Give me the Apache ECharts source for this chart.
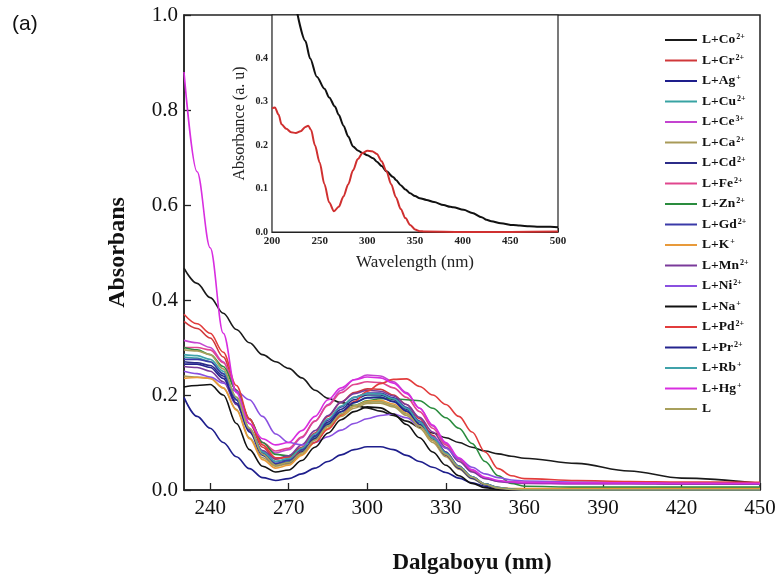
<!DOCTYPE html>
<html>
<head>
<meta charset="utf-8">
<script src="https://cdn.jsdelivr.net/npm/echarts@6/dist/echarts.min.js"></script>
<style>html,body{margin:0;padding:0;background:#fff;}#c{width:782px;height:587px;}</style>
</head>
<body>
<div id="c"></div>
<script>
// ---- main chart data ----
const wavelengths = [230,235,240,245,250,255,260,265,270,275,280,285,290,295,300,305,310,315,320,325,330,335,340,345,350,355,360,380,400,420,450];
const xTickLabels = [240,270,300,330,360,390,420,450];

const ionNames   = ['L+Co','L+Cr','L+Ag','L+Cu','L+Ce','L+Ca','L+Cd','L+Fe','L+Zn','L+Gd','L+K','L+Mn','L+Ni','L+Na','L+Pd','L+Pr','L+Rb','L+Hg','L'];
const ionCharges = ['2+','2+','+','2+','3+','2+','2+','2+','2+','2+','+','2+','2+','+','2+','2+','+','+',''];
const ionColors  = ['#1a1a1a','#d0383a','#1e1e8c','#38a3a3','#c444d0','#a89a58','#2c2c88','#e0468e','#2a8c3e','#3a3aa8','#e89a3a','#7a3a9a','#8a50e0','#111111','#e23c3c','#24248e','#40a2aa','#d82ee0','#a8a05c'];

const coValues = [0.467,0.435,0.405,0.372,0.338,0.31,0.285,0.27,0.256,0.236,0.21,0.193,0.184,0.178,0.173,0.166,0.157,0.145,0.132,0.12,0.11,0.1,0.09,0.082,0.076,0.071,0.067,0.056,0.04,0.025,0.014];
const crValues = [0.355,0.34,0.32,0.28,0.21,0.14,0.09,0.065,0.07,0.09,0.12,0.155,0.185,0.205,0.213,0.212,0.2,0.18,0.15,0.115,0.08,0.05,0.027,0.012,0.005,0.002,0,0,0,0,0];
const agValues = [0.195,0.155,0.13,0.1,0.07,0.045,0.026,0.02,0.024,0.034,0.046,0.06,0.074,0.085,0.091,0.091,0.085,0.073,0.06,0.048,0.037,0.025,0.015,0.008,0.003,0.001,0,0,0,0,0];
const cuValues = [0.28,0.278,0.27,0.245,0.19,0.125,0.075,0.055,0.06,0.082,0.11,0.14,0.165,0.184,0.195,0.196,0.186,0.166,0.138,0.106,0.074,0.046,0.025,0.011,0.004,0.001,0,0,0,0,0];
const ceValues = [0.315,0.31,0.3,0.27,0.21,0.15,0.1,0.078,0.085,0.11,0.145,0.18,0.21,0.232,0.242,0.24,0.228,0.205,0.172,0.135,0.098,0.065,0.04,0.025,0.018,0.015,0.014,0.013,0.013,0.012,0.012];
const caValues = [0.24,0.238,0.235,0.215,0.17,0.11,0.068,0.05,0.055,0.075,0.1,0.13,0.155,0.172,0.182,0.183,0.175,0.157,0.13,0.1,0.07,0.044,0.024,0.011,0.004,0.001,0,0,0,0,0];
const cdValues = [0.27,0.268,0.262,0.24,0.19,0.128,0.08,0.06,0.064,0.085,0.113,0.143,0.17,0.19,0.2,0.2,0.19,0.17,0.142,0.11,0.078,0.05,0.028,0.013,0.005,0.002,0,0,0,0,0];
const feValues = [0.3,0.3,0.295,0.268,0.21,0.148,0.1,0.082,0.088,0.112,0.145,0.178,0.205,0.222,0.228,0.226,0.215,0.195,0.165,0.13,0.095,0.064,0.04,0.025,0.019,0.017,0.016,0.015,0.015,0.014,0.014];
const znValues = [0.3,0.295,0.285,0.26,0.21,0.15,0.1,0.075,0.072,0.085,0.108,0.135,0.16,0.178,0.188,0.192,0.192,0.19,0.188,0.172,0.152,0.13,0.098,0.06,0.03,0.014,0.008,0.006,0.006,0.006,0.006];
const gdValues = [0.275,0.275,0.27,0.245,0.19,0.128,0.078,0.056,0.062,0.085,0.115,0.147,0.175,0.195,0.204,0.204,0.194,0.174,0.145,0.112,0.08,0.05,0.028,0.013,0.005,0.002,0,0,0,0,0];
const kValues  = [0.235,0.237,0.235,0.215,0.168,0.108,0.064,0.046,0.052,0.073,0.1,0.13,0.157,0.176,0.187,0.189,0.181,0.162,0.135,0.104,0.073,0.046,0.026,0.012,0.005,0.003,0.003,0.003,0.003,0.003,0.003];
const mnValues = [0.26,0.258,0.25,0.228,0.18,0.125,0.083,0.066,0.072,0.095,0.125,0.157,0.185,0.203,0.21,0.208,0.198,0.18,0.153,0.122,0.09,0.06,0.038,0.024,0.018,0.016,0.015,0.014,0.014,0.013,0.013];
const niValues = [0.25,0.245,0.238,0.225,0.208,0.19,0.155,0.118,0.1,0.095,0.1,0.112,0.126,0.14,0.15,0.157,0.16,0.152,0.135,0.112,0.088,0.066,0.048,0.034,0.026,0.021,0.019,0.017,0.016,0.015,0.014];
const naValues = [0.217,0.22,0.222,0.2,0.14,0.085,0.05,0.038,0.042,0.062,0.09,0.12,0.148,0.165,0.175,0.173,0.16,0.138,0.11,0.08,0.052,0.03,0.014,0.005,0.001,0,0,0,0,0,0];
const pdValues = [0.37,0.35,0.33,0.29,0.22,0.15,0.095,0.068,0.068,0.08,0.1,0.128,0.158,0.186,0.208,0.224,0.233,0.234,0.218,0.2,0.18,0.155,0.122,0.08,0.045,0.03,0.024,0.02,0.018,0.017,0.016];
const prValues = [0.265,0.265,0.258,0.235,0.183,0.122,0.073,0.053,0.058,0.08,0.108,0.138,0.165,0.184,0.194,0.195,0.186,0.166,0.138,0.106,0.074,0.046,0.025,0.011,0.004,0.001,0,0,0,0,0];
const rbValues = [0.285,0.283,0.275,0.25,0.195,0.13,0.08,0.06,0.066,0.088,0.118,0.15,0.177,0.195,0.203,0.202,0.192,0.172,0.143,0.11,0.078,0.05,0.028,0.013,0.005,0.002,0,0,0,0,0];
const hgValues = [0.88,0.67,0.51,0.33,0.205,0.14,0.108,0.095,0.1,0.125,0.155,0.19,0.215,0.232,0.238,0.236,0.225,0.203,0.172,0.137,0.1,0.068,0.043,0.027,0.02,0.017,0.016,0.015,0.015,0.014,0.014];
const lValues  = [0.295,0.293,0.285,0.255,0.195,0.13,0.075,0.052,0.058,0.078,0.105,0.135,0.16,0.177,0.185,0.186,0.178,0.16,0.135,0.105,0.075,0.048,0.027,0.012,0.004,0.001,0,0,0,0,0];

const allValues = [coValues,crValues,agValues,cuValues,ceValues,caValues,cdValues,feValues,znValues,gdValues,kValues,mnValues,niValues,naValues,pdValues,prValues,rbValues,hgValues,lValues];

// ---- inset data ----
const insetBlackX = [226,235,240,247,255,260,266,270,275,280,285,290,295,300,306,310,315,320,327,330,335,340,345,350,355,362,370,380,387,390,401,410,420,425,430,440,453,460,470,480,492,500];
const insetBlackY = [0.51,0.44,0.4,0.358,0.33,0.31,0.289,0.27,0.245,0.22,0.197,0.188,0.182,0.177,0.17,0.162,0.152,0.14,0.127,0.12,0.108,0.098,0.089,0.083,0.078,0.074,0.069,0.062,0.058,0.057,0.051,0.044,0.034,0.028,0.025,0.02,0.016,0.015,0.013,0.012,0.012,0.011];
const insetRedX = [200,203,207,210,215,220,225,230,235,238,241,245,250,255,260,265,270,275,280,285,290,295,300,305,310,315,320,325,330,335,340,345,350,355,360,400,450,500];
const insetRedY = [0.285,0.287,0.27,0.248,0.238,0.23,0.228,0.232,0.242,0.245,0.235,0.2,0.16,0.11,0.068,0.048,0.058,0.082,0.11,0.142,0.168,0.182,0.187,0.186,0.18,0.163,0.14,0.11,0.08,0.053,0.032,0.016,0.006,0.002,0.001,0,0,0.001];

const serif = 'Liberation Serif';

const chart = echarts.init(document.getElementById('c'), null, {renderer:'canvas'});

const mainSeries = ionNames.map((n,i)=>({
  name: n + ionCharges[i],
  type: 'line',
  xAxisIndex: 0, yAxisIndex: 0,
  data: wavelengths.map((w,j)=>[w, allValues[i][j]]),
  symbol: 'none',
  smooth: 0.35,
  smoothMonotone: 'x',
  lineStyle: {color: ionColors[i], width: 1.6},
  itemStyle: {color: ionColors[i]},
  z: 3
}));

const chargeOf = {};
ionNames.forEach((n,i)=>{ chargeOf[n+ionCharges[i]] = [n, ionCharges[i]]; });

const option = {
  backgroundColor: '#fff',
  animation: false,
  grid: [
    {left:184, top:15, width:576, height:475, show:true, borderColor:'#222', borderWidth:1.5, backgroundColor:'#fff', outerBoundsMode:'none', containLabel:false},
    {left:272, top:15, width:286, height:217, show:true, borderColor:'#222', borderWidth:1.2, backgroundColor:'#fff', outerBoundsMode:'none', containLabel:false, z:1}
  ],
  xAxis: [
    {type:'value', gridIndex:0, min:230, max:450,
     axisLine:{show:true, onZero:false, lineStyle:{color:'#222', width:1.5}},
     axisTick:{show:true, inside:true, length:7, customValues:xTickLabels, lineStyle:{color:'#222', width:1.3}},
     axisLabel:{customValues:xTickLabels, fontFamily:serif, fontSize:21, color:'#111', margin:8},
     splitLine:{show:false},
     name:'Dalgaboyu (nm)', nameLocation:'middle', nameGap:62,
     nameTextStyle:{fontFamily:serif, fontWeight:'bold', fontSize:23, color:'#111'}},
    {type:'value', gridIndex:1, min:200, max:500, interval:50,
     axisLine:{show:true, onZero:false, lineStyle:{color:'#222', width:1.2}},
     axisTick:{show:true, inside:true, length:4, lineStyle:{color:'#222'}},
     axisLabel:{fontFamily:serif, fontSize:11, fontWeight:'bold', color:'#222', margin:4},
     splitLine:{show:false},
     name:'Wavelength (nm)', nameLocation:'middle', nameGap:22,
     nameTextStyle:{fontFamily:serif, fontSize:17, color:'#222'}}
  ],
  yAxis: [
    {type:'value', gridIndex:0, min:0, max:1, interval:0.2,
     axisLine:{show:true, onZero:false, lineStyle:{color:'#222', width:1.5}},
     axisTick:{show:true, inside:true, length:7, lineStyle:{color:'#222', width:1.3}},
     axisLabel:{fontFamily:serif, fontSize:21, color:'#111', margin:6, formatter:v=>v.toFixed(1)},
     splitLine:{show:false},
     name:'Absorbans', nameLocation:'middle', nameGap:54,
     nameTextStyle:{fontFamily:serif, fontWeight:'bold', fontSize:24, color:'#111'}},
    {type:'value', gridIndex:1, min:0, max:0.5, interval:0.1,
     axisLine:{show:true, onZero:false, lineStyle:{color:'#222', width:1.2}},
     axisTick:{show:true, inside:true, length:4, lineStyle:{color:'#222'}},
     axisLabel:{fontFamily:serif, fontSize:10, fontWeight:'bold', color:'#222', margin:4, showMaxLabel:false, formatter:v=>v.toFixed(1)},
     splitLine:{show:false},
     name:'Absorbance (a. u)', nameLocation:'middle', nameGap:24,
     nameTextStyle:{fontFamily:serif, fontSize:16, color:'#222'}}
  ],
  legend: {
    orient:'vertical', left:664, top:33, padding:0,
    itemWidth:32, itemHeight:14, itemGap:6.5,
    itemStyle:{opacity:0},
    lineStyle:{width:2},
    data: ionNames.map((n,i)=>n+ionCharges[i]),
    formatter: function(name){
      const p = chargeOf[name];
      return p[1] ? '{b|'+p[0]+'}{s|'+p[1]+'}' : '{b|'+p[0]+'}';
    },
    textStyle:{
      fontFamily:serif, fontWeight:'bold', fontSize:13.5, color:'#111',
      rich:{
        b:{fontFamily:serif, fontWeight:'bold', fontSize:13.5, color:'#111', lineHeight:14},
        s:{fontFamily:serif, fontWeight:'bold', fontSize:8, color:'#111', verticalAlign:'top', lineHeight:14, padding:[0,0,0,1]}
      }
    }
  },
  graphic: [
    {type:'text', left:12, top:14, style:{text:'(a)', fontFamily:'Liberation Sans', fontSize:21, fill:'#111'}}
  ],
  series: mainSeries.concat([
    {name:'inset-black', type:'line', xAxisIndex:1, yAxisIndex:1,
     data: insetBlackX.map((x,i)=>[x, insetBlackY[i]]),
     symbol:'none', smooth:0.3, smoothMonotone:'x', clip:true,
     lineStyle:{color:'#111', width:2}, z:5},
    {name:'inset-red', type:'line', xAxisIndex:1, yAxisIndex:1,
     data: insetRedX.map((x,i)=>[x, insetRedY[i]]),
     symbol:'none', smooth:0.3, smoothMonotone:'x', clip:true,
     lineStyle:{color:'#d03030', width:2}, z:5}
  ])
};
chart.setOption(option);
</script>
</body>
</html>
